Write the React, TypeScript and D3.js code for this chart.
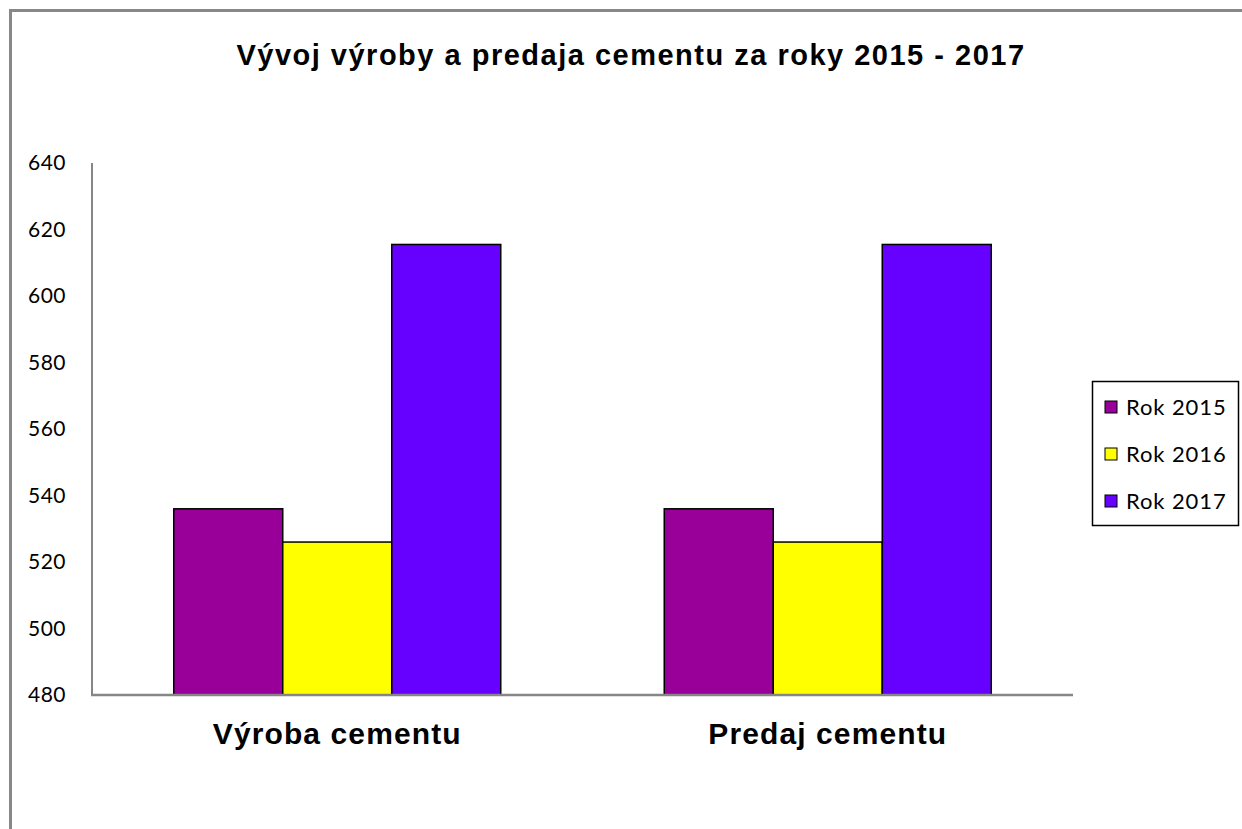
import { useEffect, useRef } from 'react'
import * as d3 from 'd3'

const categories = ['Výroba cementu', 'Predaj cementu']
const seriesNames = ['Rok 2015', 'Rok 2016', 'Rok 2017']
const values2015 = [536, 536]
const values2016 = [526, 526]
const values2017 = [615.5, 615.5]
const yTicks = [480, 500, 520, 540, 560, 580, 600, 620, 640]
const colors = ['#990099', '#ffff00', '#6600ff']

export default function App() {
  const svgRef = useRef<SVGSVGElement>(null)

  useEffect(() => {
    const width = 1242
    const height = 829
    const plot = { left: 92, right: 1073, top: 163, bottom: 695 }

    const svg = d3.select(svgRef.current)
      .attr('width', width)
      .attr('height', height)

    svg.selectAll('*').remove()

    // outer chart frame (runs off the picture on right and bottom)
    svg.append('rect')
      .attr('x', 10.5)
      .attr('y', 10.5)
      .attr('width', 1300)
      .attr('height', 900)
      .attr('fill', '#fff')
      .attr('stroke', '#888')
      .attr('stroke-width', 3)

    svg.append('text')
      .attr('x', 631)
      .attr('y', 65)
      .attr('text-anchor', 'middle')
      .attr('font-family', '"Liberation Sans", Arial, sans-serif')
      .attr('font-weight', 'bold')
      .attr('font-size', 29)
      .attr('letter-spacing', 1.5)
      .text('Vývoj výroby a predaja cementu za roky 2015 - 2017')

    const x = d3.scaleBand()
      .domain(categories)
      .range([plot.left, plot.right])
      .padding(0)

    const xs = d3.scaleBand()
      .domain(seriesNames)
      .range([0, x.bandwidth()])
      .paddingInner(0)
      .paddingOuter(0.75)

    const y = d3.scaleLinear()
      .domain([480, 640])
      .range([plot.bottom, plot.top])

    const series = [values2015, values2016, values2017]
    const data = categories.flatMap((c, i) =>
      seriesNames.map((s, j) => ({ cat: c, name: s, value: series[j][i], color: colors[j] })))

    // y labels
    svg.append('g')
      .selectAll('text')
      .data(yTicks)
      .join('text')
      .attr('x', 66)
      .attr('y', d => y(d))
      .attr('dy', '0.35em')
      .attr('text-anchor', 'end')
      .attr('font-family', 'Lato, "Open Sans", sans-serif')
      .attr('font-size', 21)
      .attr('letter-spacing', 0.5)
      .attr('fill', '#000')
      .text(d => d)

    // bars
    svg.append('g')
      .selectAll('rect')
      .data(data)
      .join('rect')
      .attr('x', d => x(d.cat)! + xs(d.name)!)
      .attr('y', d => y(d.value))
      .attr('width', xs.bandwidth())
      .attr('height', d => y(480) - y(d.value))
      .attr('fill', d => d.color)
      .attr('stroke', '#000')
      .attr('stroke-width', 1.5)

    // axes lines
    svg.append('line')
      .attr('x1', plot.left).attr('x2', plot.left)
      .attr('y1', plot.top).attr('y2', plot.bottom)
      .attr('stroke', '#868686').attr('stroke-width', 2)
    svg.append('line')
      .attr('x1', plot.left - 1).attr('x2', plot.right)
      .attr('y1', plot.bottom).attr('y2', plot.bottom)
      .attr('stroke', '#868686').attr('stroke-width', 2.5)

    // category labels
    svg.append('g')
      .selectAll('text')
      .data(categories)
      .join('text')
      .attr('x', d => x(d)! + x.bandwidth() / 2)
      .attr('y', 744)
      .attr('text-anchor', 'middle')
      .attr('font-family', '"Liberation Sans", Arial, sans-serif')
      .attr('font-weight', 'bold')
      .attr('font-size', 30)
      .attr('letter-spacing', 1.1)
      .text(d => d)

    // legend
    const legend = svg.append('g')
    legend.append('rect')
      .attr('x', 1092.5)
      .attr('y', 381.5)
      .attr('width', 146)
      .attr('height', 144)
      .attr('fill', '#fff')
      .attr('stroke', '#000')
      .attr('stroke-width', 1.5)

    const item = legend.selectAll('g.item')
      .data(seriesNames)
      .join('g')
      .attr('class', 'item')
      .attr('transform', (d, i) => `translate(1105, ${407 + i * 47})`)

    item.append('rect')
      .attr('x', 0)
      .attr('y', -6)
      .attr('width', 12)
      .attr('height', 12)
      .attr('fill', (d, i) => colors[i])
      .attr('stroke', '#000')
      .attr('stroke-width', 1)

    item.append('text')
      .attr('x', 21)
      .attr('y', 0)
      .attr('dy', '0.35em')
      .attr('font-family', 'Lato, "Open Sans", sans-serif')
      .attr('font-size', 22)
      .attr('letter-spacing', 0.9)
      .text(d => d)
  }, [])

  return (
    <svg ref={svgRef} style={{ position: 'absolute', left: 0, top: 0 }}></svg>
  )
}
